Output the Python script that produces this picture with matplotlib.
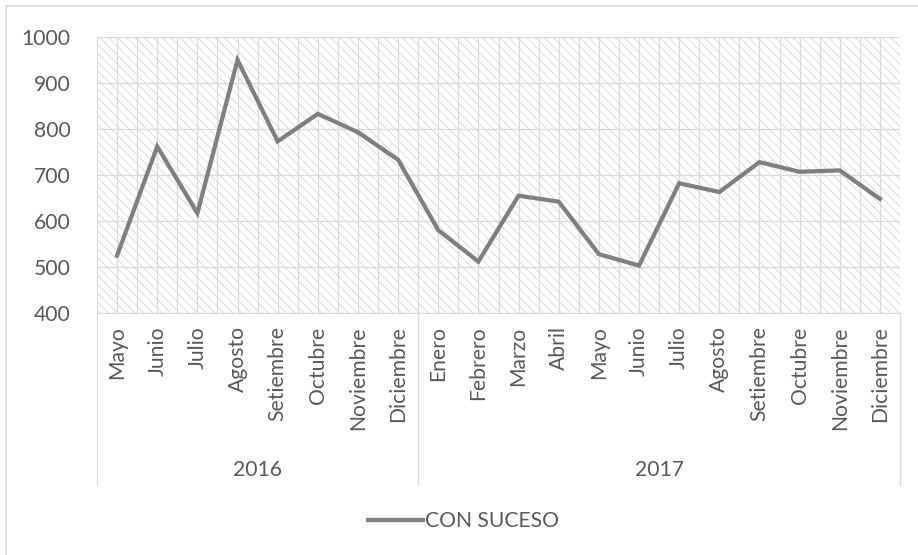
import numpy as np
import matplotlib.pyplot as plt
from matplotlib.lines import Line2D
from matplotlib.patches import Rectangle
import matplotlib.transforms as mtransforms

# datos mensuales
years = ['2016', '2017']
months_2016 = ['Mayo', 'Junio', 'Julio', 'Agosto', 'Setiembre', 'Octubre',
               'Noviembre', 'Diciembre']
months_2017 = ['Enero', 'Febrero', 'Marzo', 'Abril', 'Mayo', 'Junio', 'Julio',
               'Agosto', 'Setiembre', 'Octubre', 'Noviembre', 'Diciembre']
con_suceso = [525, 762, 617, 950, 773, 833, 793, 733,
              580, 512, 655, 642, 528, 503, 682, 663, 728, 707, 710, 648]

gris_texto = '#595959'
gris_linea = '#d9d9d9'
gris_trama = '#dcdcdc'
fs = 19

plt.rcParams['font.family'] = ['Lato', 'DejaVu Sans']
plt.rcParams['hatch.linewidth'] = 0.9

dpi = 80
W, H = 918, 555
fig = plt.figure(figsize=(W / dpi, H / dpi), dpi=dpi)

# area del grafico en pixeles
left, right, top, bottom = 97, 900, 37, 313
ax = fig.add_axes([left / W, 1 - bottom / H, (right - left) / W, (bottom - top) / H])

labels = months_2016 + months_2017
x = np.arange(len(labels))

# fondo con trama diagonal
fondo = Rectangle((0, 0), 1, 1, transform=ax.transAxes, facecolor='white',
                  edgecolor=gris_trama, linewidth=0, hatch='\\\\\\', zorder=0)
try:
    fondo.set_hatchcolor(gris_trama)
except AttributeError:
    pass
ax.add_patch(fondo)

ax.plot(x, con_suceso, color='#7f7f7f', lw=3.8, solid_joinstyle='miter', zorder=3)

ax.set_xlim(-0.5, len(labels) - 0.5)
ax.set_ylim(400, 1000)
ax.set_yticks(np.arange(400, 1001, 100))
ax.set_xticks(x)
ax.set_xticks(np.arange(-0.5, len(labels), 1), minor=True)
ax.set_xticklabels(labels, rotation=90, va='top', ha='center')
ax.tick_params(axis='x', which='both', length=0, pad=12, labelsize=fs, labelcolor=gris_texto)
ax.tick_params(axis='y', length=0, pad=24, labelsize=fs, labelcolor=gris_texto)

ax.grid(True, which='both', color=gris_linea, lw=1.1)
ax.set_axisbelow(True)
for s in ['top', 'right', 'left']:
    ax.spines[s].set_visible(False)
ax.spines['bottom'].set_color(gris_linea)
ax.spines['bottom'].set_linewidth(1.1)

# eje de categorias en dos niveles
trans = mtransforms.blended_transform_factory(ax.transData, ax.transAxes)
sep_bottom = -(485 - bottom) / (bottom - top)
year_y = -(470 - bottom) / (bottom - top)
counts = [len(months_2016), len(months_2017)]
edges = np.concatenate([[0], np.cumsum(counts)]) - 0.5
for e in edges:
    ax.plot([e, e], [0, sep_bottom], transform=trans, color=gris_linea, lw=1.1, clip_on=False)
for i, yr in enumerate(years):
    ax.text((edges[i] + edges[i + 1]) / 2, year_y, yr, transform=trans,
            ha='center', va='center', fontsize=fs, color=gris_texto)

# leyenda
handle = Line2D([], [], color='#7f7f7f', lw=3.8)
fig.legend([handle], ['CON SUCESO'], loc='center', bbox_to_anchor=(0.505, 1 - 521 / H),
           frameon=False, fontsize=fs, labelcolor=gris_texto, handlelength=2.6,
           handletextpad=0.1)

# borde exterior
fig.patches.append(Rectangle((6 / W, -0.1), 1.2, 1 - 6 / H + 0.1, transform=fig.transFigure,
                             facecolor='none', edgecolor=gris_linea, lw=1.4))

fig.savefig('out.png', dpi=dpi)
